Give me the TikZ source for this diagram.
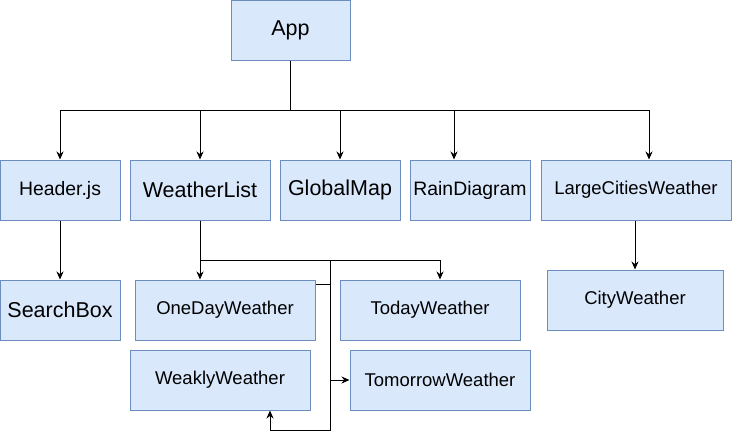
\documentclass[tikz,border=0pt]{standalone}
\usepackage{fontspec}
\setmainfont{Liberation Sans}
\usetikzlibrary{arrows.meta}
\definecolor{boxfill}{HTML}{DAE8FC}
\definecolor{boxline}{HTML}{6C8EBF}
\begin{document}
\begin{tikzpicture}[x=1pt,y=-1pt]
    \tikzstyle{comp}=[draw=boxline,fill=boxfill,line width=1pt,rectangle,inner sep=0pt,minimum height=60pt,font=\fontsize{18.5}{22}\selectfont]
    \tikzstyle{big}=[font=\fontsize{21.5}{25}\selectfont]
    \tikzstyle{mid}=[font=\fontsize{19.4}{23}\selectfont]
    \tikzstyle{link}=[line width=0.9pt,-{Stealth[length=8pt,width=7pt]}]
    \useasboundingbox (0,0) rectangle (732,440);
    % top level
    \node[comp,big,minimum width=119pt] (app) at (290.5,30) {App};
    \node[comp,mid,minimum width=120pt] (header) at (60,190) {Header.js};
    \node[comp,big,minimum width=140pt] (wlist) at (200,190) {WeatherList};
    \node[comp,big,minimum width=120pt] (gmap) at (340,190) {GlobalMap};
    \node[comp,mid,minimum width=120pt] (rain) at (470,190) {RainDiagram};
    \node[comp,minimum width=190pt] (large) at (636,190) {LargeCitiesWeather};
    % second level
    \node[comp,big,minimum width=120pt] (search) at (60,310) {SearchBox};
    \node[comp,minimum width=180pt] (oneday) at (225,310) {OneDayWeather};
    \node[comp,minimum width=180pt] (today) at (430,310) {TodayWeather};
    \node[comp,minimum width=180pt] (weakly) at (220,380) {WeaklyWeather};
    \node[comp,minimum width=180pt] (tomorrow) at (440,380) {TomorrowWeather};
    \node[comp,minimum width=176pt] (city) at (635,300) {CityWeather};
    % connectors from App
    \coordinate (bus) at (290.5,110);
    \draw[line width=0.9pt] (app.south) -- (bus);
    \draw[link] (bus) -| (header.north);
    \draw[link] (bus) -| (wlist.north);
    \draw[link] (bus) -| (gmap.north);
    \draw[link] (bus) -| ([xshift=-16pt]rain.north);
    \draw[link] (bus) -| ([xshift=13pt]large.north);
    \draw[link] (header.south) -- (search.north);
    \draw[link] (city.north |- large.south) -- (city.north);
    % connectors from WeatherList
    \coordinate (wbus) at (200,260);
    \coordinate (split) at (330,260);
    \coordinate (loop) at (330,430);
    \draw[line width=0.9pt] (wlist.south) -- (wbus);
    \draw[link] (wbus) -- (oneday.north -| wbus);
    \draw[link] (wbus) -| ([xshift=10pt]today.north);
    \draw[link] (split) -- (loop) -| ([xshift=50pt]weakly.south);
    \draw[link] (split |- tomorrow.west) -- (tomorrow.west);
    \draw[line width=0.9pt] ([yshift=-5pt]oneday.north east) -- ++(15pt,0);
\end{tikzpicture}
\end{document}
